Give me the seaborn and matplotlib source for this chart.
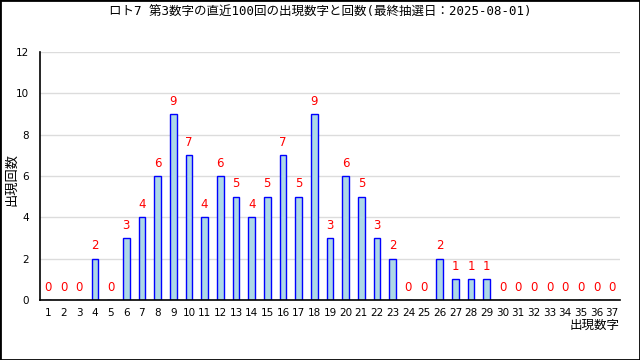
import matplotlib
matplotlib.use("Agg")
import matplotlib.pyplot as plt
from matplotlib.patches import Rectangle
from matplotlib.ticker import FixedLocator
import seaborn as sns
import pandas as pd

# numbers 1..37 and how often each came up as the 3rd number
numbers = [str(n) for n in range(1, 38)]
counts = [0, 0, 0, 2, 0, 3, 4, 6, 9, 7,
          4, 6, 5, 4, 5, 7, 5, 9, 3, 6,
          5, 3, 2, 0, 0, 2, 1, 1, 1, 0,
          0, 0, 0, 0, 0, 0, 0]

title = "ロト7 第3数字の直近100回の出現数字と回数(最終抽選日：2025-08-01)"
y_label = "出現回数"
x_label = "出現数字"

data = pd.DataFrame({"number": numbers, "count": counts})

sns.set_style("white")
plt.rcParams["font.family"] = ["DejaVu Sans", "Noto Sans CJK JP"]
plt.rcParams["text.color"] = "black"
plt.rcParams["xtick.color"] = "black"
plt.rcParams["ytick.color"] = "black"

fig = plt.figure(figsize=(6.4, 3.6), dpi=100)
ax = fig.add_axes([0.0625, 0.1667, 0.9063, 0.6889])

sns.barplot(data=data, x="number", y="count", order=numbers,
            color="lightblue", edgecolor="blue", linewidth=1.0,
            width=0.42, saturation=1, ax=ax)

ax.set_ylim(0, 12)
ax.set_xlim(-0.5, len(numbers) - 0.5)
ax.set_yticks(range(0, 13, 2))
ax.yaxis.grid(True, color="#dcdcdc", linewidth=1)
ax.set_axisbelow(True)

# count labels above each bar
for i, c in enumerate(counts):
    ax.text(i, c + 0.3, str(c), color="red", ha="center", va="bottom",
            fontsize=8.5)

ax.spines["top"].set_visible(False)
ax.spines["right"].set_visible(False)
ax.spines["left"].set_linewidth(1.2)
ax.spines["bottom"].set_linewidth(1.2)
ax.spines["left"].set_color("black")
ax.spines["bottom"].set_color("black")

ax.tick_params(axis="x", which="major", length=0, labelsize=7.5, pad=6)
ax.xaxis.set_minor_locator(FixedLocator([i + 0.5 for i in range(len(numbers))]))
ax.tick_params(axis="x", which="minor", direction="in", length=4, width=1)
ax.tick_params(axis="y", direction="in", length=4, width=1, labelsize=7.5, pad=8)

ax.set_xlabel("")
ax.set_ylabel("")
fig.text(12 / 640, 0.5, y_label, rotation=90, ha="center", va="center",
         fontsize=9.5, family=["Noto Sans CJK JP"])
ax.text(1.0, -0.075, x_label, transform=ax.transAxes, ha="right", va="top",
        fontsize=9, family=["Noto Sans CJK JP"])

fig.text(0.5, 0.965, title, ha="center", va="center", fontsize=9,
         family=["DejaVu Sans Mono", "Noto Sans CJK JP"])

fig.patches.append(Rectangle((0, 0), 1, 1, transform=fig.transFigure,
                             fill=False, edgecolor="black", linewidth=2))

fig.savefig("out.png", dpi=100)
